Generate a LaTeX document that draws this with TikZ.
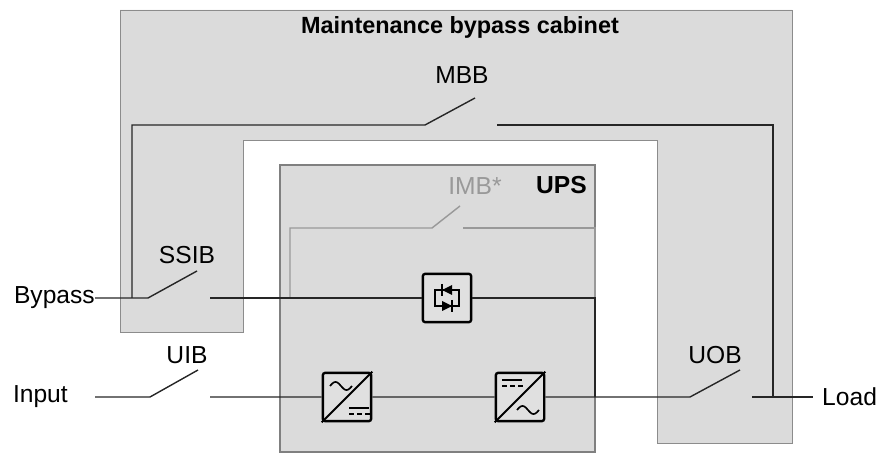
\documentclass[tikz,border=0pt]{standalone}
\usepackage{fontspec}
\setmainfont{Liberation Sans}
\usetikzlibrary{positioning}

\tikzset{
  wire/.style={line width=1.2pt,black!85},
  greywire/.style={line width=1.2pt,black!40},
  unit/.style={draw,line width=2pt,rounded corners=2pt,fill=black!12,minimum size=1.45cm,inner sep=0pt},
  lbl/.style={font=\fontsize{21}{24}\selectfont,inner sep=0pt},
}
\newcommand{\sine}[2]{\draw[line width=1.4pt] plot[domain=0:22,samples=40,smooth] ({#1+\x},{#2-4*sin(\x*360/22)});}

\begin{document}
\begin{tikzpicture}[x=0.03cm,y=-0.03cm]
  \useasboundingbox (0,0) rectangle (884,457);

  %cabinet and UPS
  \fill[black!14,draw=black!45,line width=0.8pt] (120,10) -- (792,10) -- (792,443) -- (657,443) -- (657,140)
      -- (243,140) -- (243,332) -- (120,332) -- cycle;
  \fill[black!14,draw=black!50,line width=1pt] (280,165) rectangle (595,452);
  \node[lbl,font=\bfseries\fontsize{20}{24}\selectfont] (title) at (460,27) {Maintenance bypass cabinet};
  \node[lbl,font=\bfseries\fontsize{21}{24}\selectfont,anchor=east] (ups) at (587,185) {UPS};

  %units
  \node[unit] (ss) at (447,298) {};
  \node[unit] (rect) at (347,397) {};
  \node[unit] (inv) at (520,397) {};
  \draw[line width=1.4pt] (435,290) rectangle (459,306);
  \fill[black] (442,290) -- (452,285) -- (452,295) -- cycle;
  \draw[line width=1.4pt] (442,284) -- (442,296);
  \fill[black] (452,306) -- (442,301) -- (442,311) -- cycle;
  \draw[line width=1.4pt] (452,300) -- (452,312);
  \draw[line width=1.6pt] (rect.south west) -- (rect.north east) (inv.south west) -- (inv.north east);
  \sine{330}{386}
  \draw[line width=1.4pt] (349,408) -- ++(20,0) (349,414) -- ++(5,0) ++(3,0) -- ++(5,0) ++(3,0) -- ++(5,0);
  \draw[line width=1.4pt] (502,380) -- ++(20,0) (502,386) -- ++(5,0) ++(3,0) -- ++(5,0) ++(3,0) -- ++(5,0);
  \sine{517}{410}

  %texts
  \node[lbl,anchor=east] (bypass) at (95,298) {Bypass};
  \node[lbl,anchor=east] (input) at (68,397) {Input};
  \node[lbl,anchor=west] (load) at (822,397) {Load};
  \node[lbl] (ssib) at (187,255) {SSIB};
  \node[lbl] (uib) at (187,355) {UIB};
  \node[lbl] (uob) at (715,355) {UOB};
  \node[lbl] (mbb) at (462,75) {MBB};
  \node[lbl,text=black!40] (imb) at (475,186) {IMB*};

  %wires
  \coordinate (ssibA) at (148,298); \coordinate (ssibB) at (210,298);
  \coordinate (uibA) at (150,397);  \coordinate (uibB) at (210,397);
  \coordinate (uobA) at (690,397);  \coordinate (uobB) at (752,397);
  \coordinate (mbbA) at (425,125);  \coordinate (mbbB) at (497,125);
  \coordinate (imbA) at (432,228);  \coordinate (imbB) at (463,228);
  \coordinate (join) at (595,298);  \coordinate (joinL) at (773,397);

  \draw[greywire] (290,298) |- (imbA) -- ++(28,-22);
  \draw[greywire] (imbB) -| (join);
  \draw[wire] (bypass.east) -- (ssibA) -- ++(49,-27);
  \draw[wire] (132,298) |- (mbbA) -- ++(50,-27);
  \draw[wire] (mbbB) -| (joinL);
  \draw[wire] (ssibB) -- (ss) -- (join) -- (595,397);
  \draw[wire] (input.east) ++(27,0) -- (uibA) -- ++(48,-27);
  \draw[wire] (uibB) -- (rect) -- (inv) -- (uobA) -- ++(50,-27);
  \draw[wire] (uobB) -- (813,397);
\end{tikzpicture}
\end{document}
